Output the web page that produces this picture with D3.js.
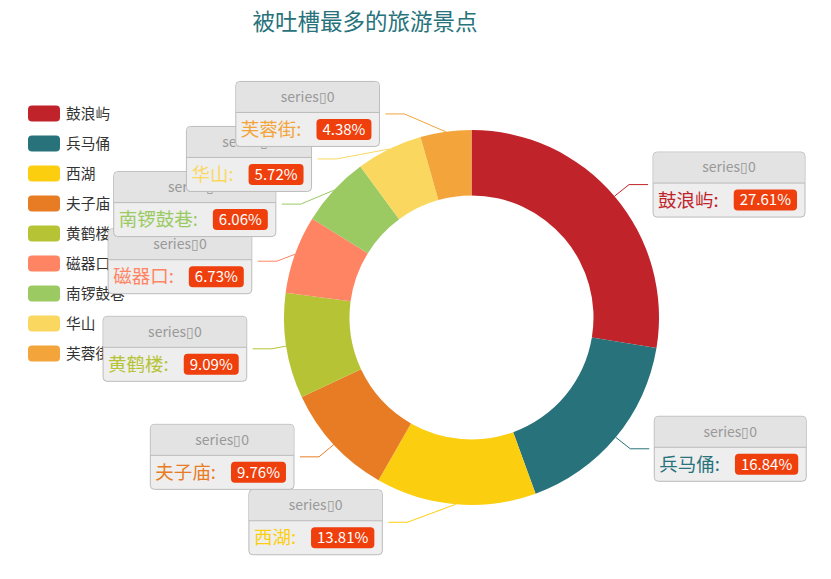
<!DOCTYPE html>
<html><head><meta charset="utf-8">
<script src="https://cdn.jsdelivr.net/npm/d3@7"></script>
<style>
body{margin:0;background:#fff;}
svg{font-family:"Microsoft YaHei","Noto Sans CJK SC","Noto Sans",sans-serif;}
</style></head>
<body><svg id="chart" width="831" height="579"></svg>
<script>
const titleText = "被吐槽最多的旅游景点";
const categories = ["鼓浪屿","兵马俑","西湖","夫子庙","黄鹤楼","磁器口","南锣鼓巷","华山","芙蓉街"];
const values = [27.61,16.84,13.81,9.76,9.09,6.73,6.06,5.72,4.38];
const colors = ['#C1232B','#27727B','#FCCE10','#E87C25','#B5C334','#FE8463','#9BCA63','#FAD860','#F3A43B'];
const seriesName = "series\u25AF0";

const W = 831, H = 579;
const cx = 471.5, cy = 317.5, rOuter = 187.5, rInner = 122;
const len1 = 18, len2 = 19, rText = 221, labelH = 45;

const svg = d3.select("#chart");

// title
svg.append("text").attr("x", 365).attr("y", 30).attr("text-anchor", "middle")
  .attr("font-size", 22.5).attr("fill", "#27727B").text(titleText);

// legend
const legend = svg.append("g");
categories.forEach((c, i) => {
  const y = 113.5 + i * 30;
  legend.append("rect").attr("x", 28).attr("y", y - 8).attr("width", 32).attr("height", 16)
    .attr("rx", 4).attr("fill", colors[i]);
  legend.append("text").attr("x", 66).attr("y", y).attr("dy", "0.35em")
    .attr("font-size", 14.7).attr("fill", "#333").text(c);
});

const total = d3.sum(values);
const pie = d3.pie().sort(null).value(d => d)(values);
const arc = d3.arc().innerRadius(rInner).outerRadius(rOuter);
const color = d3.scaleOrdinal().domain(categories).range(colors);

const g = svg.append("g").attr("transform", `translate(${cx},${cy})`);
g.selectAll("path").data(pie).enter().append("path")
  .attr("d", arc).attr("fill", (d, i) => color(categories[i]));

// label layout (outer labels with overlap avoidance)
const items = pie.map((a, i) => {
  const mid = (a.startAngle + a.endAngle) / 2;
  const s = Math.sin(mid), c = Math.cos(mid);
  return {
    i, dir: s < 0 ? -1 : 1,
    sx: cx + rOuter * s, sy: cy - rOuter * c,
    x: cx + (rOuter + len1) * s, y: cy - (rOuter + len1) * c,
    height: labelH
  };
});

function adjustSide(list, dir) {
  list.sort((a, b) => a.y - b.y);
  const n = list.length;
  function shiftUp(end, delta) {
    for (let j = end; j >= 0; j--) {
      if (list[j].y - delta < 0) break;
      list[j].y -= delta;
      if (j > 0 && list[j].y > list[j - 1].y + list[j - 1].height) break;
    }
  }
  function shiftDown(start, end, delta) {
    for (let j = start; j < end; j++) {
      if (list[j].y + delta > H) break;
      list[j].y += delta;
      if (j > start && j + 1 < end && list[j + 1].y > list[j].y + list[j].height) {
        shiftUp(j, delta / 2);
        return;
      }
    }
    shiftUp(end - 1, delta / 2);
  }
  let lastY = 0;
  for (let i = 0; i < n; i++) {
    const delta = list[i].y - lastY;
    if (delta < 0) shiftDown(i, n, -delta);
    lastY = list[i].y + list[i].height;
  }
  function changeX(sub, isDown) {
    let last = isDown ? Number.MAX_VALUE : 0;
    sub.forEach(it => {
      const dy = Math.abs(it.y - cy);
      let dx = dy < rOuter + len1 ? Math.sqrt(rText * rText - dy * dy) : Math.abs(it.x - cx);
      if (isDown && dx >= last) dx = last - 10;
      if (!isDown && dx <= last) dx = last + 10;
      it.ex = cx + dx * dir;
      last = dx;
    });
  }
  changeX(list.filter(d => d.y < cy), false);
  changeX(list.filter(d => d.y >= cy), true);
}
adjustSide(items.filter(d => d.dir > 0), 1);
adjustSide(items.filter(d => d.dir < 0), -1);

const lines = svg.append("g");
const labels = svg.append("g");
items.sort((a, b) => a.i - b.i).forEach(it => {
  const col = colors[it.i];
  const elbowX = it.ex - it.dir * len2;
  lines.append("path")
    .attr("d", d3.line()([[it.sx, it.sy], [elbowX, it.y], [it.ex, it.y]]))
    .attr("fill", "none").attr("stroke", col).attr("stroke-width", 1);

  const lg = labels.append("g");
  const pct = (values[it.i] / total * 100).toFixed(2) + "%";
  const nameT = lg.append("text").attr("font-size", 18.5).attr("fill", col).text(categories[it.i] + ":");
  const nameW = nameT.node().getComputedTextLength();
  const pctT = lg.append("text").attr("font-size", 15).attr("fill", "#fff").text(pct);
  const pctW = pctT.node().getComputedTextLength();
  const badgeW = pctW + 12;
  const boxW = 5 + nameW + 15 + badgeW + 8;
  const boxH = 65;
  const bx = it.dir > 0 ? it.ex + 5 : it.ex - 6 - boxW;
  const by = it.y - boxH / 2;
  lg.insert("rect", ":first-child").attr("x", bx).attr("y", by).attr("width", boxW).attr("height", boxH)
    .attr("rx", 4).attr("fill", "#eee").attr("stroke", "#bbb").attr("stroke-width", 1);
  lg.insert("path", "text").attr("d",
      `M${bx+0.5},${by+31} V${by+4} Q${bx+0.5},${by+0.5} ${bx+4},${by+0.5} H${bx+boxW-4} Q${bx+boxW-0.5},${by+0.5} ${bx+boxW-0.5},${by+4} V${by+31} Z`)
    .attr("fill", "#e3e3e3");
  lg.insert("line", "text").attr("x1", bx).attr("x2", bx + boxW).attr("y1", by + 31).attr("y2", by + 31)
    .attr("stroke", "#bbb").attr("stroke-width", 1);
  lg.append("text").attr("x", bx + boxW / 2).attr("y", by + 15.5).attr("dy", "0.35em")
    .attr("text-anchor", "middle").attr("font-size", 14).attr("fill", "#999").text(seriesName);
  const bodyMid = by + 31 + 17;
  nameT.attr("x", bx + 5).attr("y", bodyMid).attr("dy", "0.35em");
  const badgeX = bx + 5 + nameW + 15;
  lg.insert("rect", function(){ return pctT.node(); }).attr("x", badgeX).attr("y", bodyMid - 10.5)
    .attr("width", badgeW).attr("height", 21).attr("rx", 4).attr("fill", "#ee3f0c");
  pctT.attr("x", badgeX + 6).attr("y", bodyMid).attr("dy", "0.35em");
});
</script></body></html>
